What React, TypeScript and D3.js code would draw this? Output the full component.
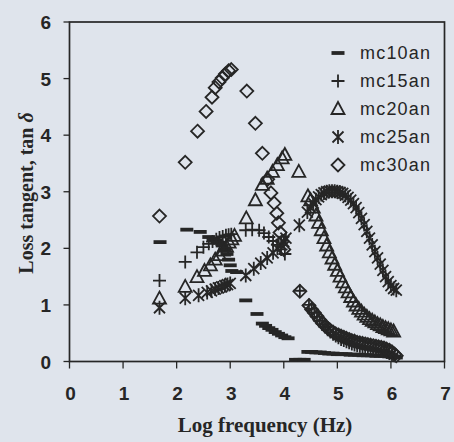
import React from "react";
import * as d3 from "d3";

// ---------- data ----------
const xTicks = [0, 1, 2, 3, 4, 5, 6, 7];
const yTicks = [0, 1, 2, 3, 4, 5, 6];
const seriesNames = ["mc10an", "mc15an", "mc20an", "mc25an", "mc30an"];

const mc10an: [number, number][] = [
  [1.69, 2.11], [2.19, 2.33], [2.44, 2.29], [2.6, 2.2], [2.68, 2.16], [2.75, 2.12], [2.8, 2.1],
  [2.85, 2.05], [2.9, 1.98], [2.94, 1.9], [2.97, 1.8], [3.0, 1.7], [3.03, 1.6], [3.12, 1.58],
  [3.29, 1.08], [3.5, 0.84], [3.6, 0.67], [3.66, 0.63], [3.72, 0.59], [3.78, 0.56], [3.84, 0.52],
  [3.9, 0.49], [3.96, 0.46], [4.02, 0.43], [4.08, 0.41],
  [4.22, 0.03], [4.3, 0.03], [4.38, 0.03], [4.45, 0.17], [4.52, 0.17], [4.6, 0.16], [4.68, 0.16],
  [4.76, 0.15], [4.84, 0.14], [4.92, 0.14], [5.0, 0.13], [5.08, 0.13], [5.16, 0.13], [5.24, 0.12],
  [5.32, 0.12], [5.4, 0.12], [5.48, 0.11], [5.56, 0.11], [5.64, 0.11], [5.72, 0.1], [5.8, 0.1],
  [5.88, 0.1], [5.96, 0.09], [6.04, 0.08], [6.1, 0.07],
];

const mc15an: [number, number][] = [
  [1.68, 1.43], [2.16, 1.76], [2.38, 1.93], [2.5, 2.02], [2.6, 2.08], [2.67, 2.12], [2.74, 2.16],
  [2.8, 2.19], [2.86, 2.21], [2.92, 2.23], [2.97, 2.24], [3.02, 2.25], [3.29, 2.32], [3.41, 2.33],
  [3.54, 2.32], [3.63, 2.27], [3.72, 2.2], [3.8, 2.13], [3.88, 2.06], [3.95, 1.98], [4.02, 1.9],
  [4.3, 1.25], [4.47, 1.0], [4.52, 0.93], [4.57, 0.86], [4.62, 0.79], [4.67, 0.72], [4.72, 0.66],
  [4.77, 0.61], [4.82, 0.56], [4.87, 0.52], [4.92, 0.48], [4.97, 0.45], [5.02, 0.42], [5.07, 0.39],
  [5.12, 0.37], [5.17, 0.35], [5.22, 0.33], [5.27, 0.31], [5.32, 0.29], [5.37, 0.28], [5.42, 0.27],
  [5.47, 0.26], [5.52, 0.25], [5.57, 0.24], [5.62, 0.23], [5.67, 0.22], [5.72, 0.21], [5.77, 0.2],
  [5.82, 0.19], [5.87, 0.18], [5.92, 0.16], [5.97, 0.14], [6.02, 0.12], [6.07, 0.1],
];

const mc20an: [number, number][] = [
  [1.68, 1.11], [2.16, 1.32], [2.38, 1.49], [2.52, 1.6], [2.63, 1.7], [2.72, 1.8], [2.8, 1.88],
  [2.87, 1.96], [2.93, 2.03], [2.98, 2.1], [3.03, 2.16], [3.08, 2.22], [3.3, 2.53], [3.47, 2.85],
  [3.6, 3.12], [3.69, 3.23], [3.79, 3.35], [3.88, 3.47], [3.97, 3.59], [4.02, 3.65], [4.28, 3.35],
  [4.45, 2.92], [4.5, 2.85], [4.55, 2.72], [4.6, 2.58], [4.65, 2.45], [4.7, 2.32], [4.75, 2.18],
  [4.8, 2.05], [4.85, 1.93], [4.9, 1.82], [4.95, 1.71], [5.0, 1.6], [5.05, 1.5], [5.1, 1.4],
  [5.15, 1.31], [5.2, 1.22], [5.25, 1.14], [5.3, 1.06], [5.35, 0.99], [5.4, 0.93], [5.45, 0.88],
  [5.5, 0.83], [5.55, 0.79], [5.6, 0.75], [5.65, 0.72], [5.7, 0.69], [5.75, 0.66], [5.8, 0.64],
  [5.85, 0.61], [5.9, 0.59], [5.95, 0.57], [6.0, 0.55], [6.05, 0.53],
];

const mc25an: [number, number][] = [
  [1.68, 0.95], [2.16, 1.12], [2.41, 1.17], [2.57, 1.22], [2.65, 1.25], [2.72, 1.28], [2.78, 1.3],
  [2.84, 1.32], [2.9, 1.34], [2.95, 1.36], [3.0, 1.38], [3.29, 1.52], [3.44, 1.64], [3.57, 1.74],
  [3.69, 1.83], [3.8, 1.92], [3.88, 2.0], [3.95, 2.06], [4.0, 2.12], [4.04, 2.18], [4.29, 2.41],
  [4.44, 2.64], [4.5, 2.72], [4.55, 2.8], [4.6, 2.86], [4.65, 2.91], [4.7, 2.95], [4.75, 2.98],
  [4.8, 3.0], [4.85, 3.01], [4.9, 3.01], [4.95, 3.01], [5.0, 3.0], [5.05, 2.99], [5.1, 2.97],
  [5.15, 2.94], [5.2, 2.9], [5.25, 2.85], [5.3, 2.79], [5.35, 2.72], [5.4, 2.63], [5.45, 2.53],
  [5.5, 2.42], [5.55, 2.3], [5.6, 2.18], [5.65, 2.06], [5.7, 1.94], [5.75, 1.83], [5.8, 1.72],
  [5.85, 1.61], [5.9, 1.5], [5.95, 1.41], [6.0, 1.34], [6.05, 1.29], [6.1, 1.26],
];

const mc30an: [number, number][] = [
  [1.68, 2.57], [2.16, 3.52], [2.39, 4.07], [2.55, 4.42], [2.66, 4.67], [2.72, 4.84], [2.79, 4.94],
  [2.85, 5.01], [2.91, 5.08], [2.97, 5.14], [3.02, 5.16], [3.31, 4.78], [3.47, 4.21], [3.6, 3.68],
  [3.7, 3.22], [3.76, 2.98], [3.82, 2.8], [3.87, 2.62], [3.9, 2.45], [3.93, 2.28], [3.97, 2.12],
  [4.0, 1.98], [4.3, 1.24], [4.47, 0.99], [4.52, 0.92], [4.57, 0.86], [4.62, 0.8], [4.67, 0.74],
  [4.72, 0.68], [4.77, 0.63], [4.82, 0.59], [4.87, 0.55], [4.92, 0.52], [4.97, 0.49], [5.02, 0.47],
  [5.07, 0.45], [5.12, 0.43], [5.17, 0.41], [5.22, 0.39], [5.27, 0.37], [5.32, 0.36], [5.37, 0.34],
  [5.42, 0.33], [5.47, 0.32], [5.52, 0.31], [5.57, 0.3], [5.62, 0.29], [5.67, 0.28], [5.72, 0.27],
  [5.77, 0.26], [5.82, 0.25], [5.87, 0.24], [5.92, 0.22], [5.97, 0.2], [6.02, 0.17], [6.07, 0.13],
  [6.1, 0.1],
];

const allSeries = [mc10an, mc15an, mc20an, mc25an, mc30an];

// ---------- layout ----------
const W = 454;
const H = 442;
const left = 69.5;
const right = 444.5;
const top = 22;
const bottom = 361.5;
const ink = "#262626";
const bg = "#dfe4ec";

const x = d3.scaleLinear().domain([0, 7]).range([left, right]);
const y = d3.scaleLinear().domain([0, 6]).range([bottom, top]);

const markerPaths = [
  "M-6.5,0H6.5", // bar
  "M-6.5,0H6.5M0,-6.5V6.5", // plus
  "M0,-7L6.5,5L-6.5,5Z", // triangle
  "M0,-7V7M-5.5,-5.5L5.5,5.5M-5.5,5.5L5.5,-5.5", // star
  "M0,-6.5L6.5,0L0,6.5L-6.5,0Z", // diamond
];

function Marker({ kind, cx, cy }: { kind: number; cx: number; cy: number }) {
  const sw = kind === 0 ? 3.8 : 1.8;
  return (
    <path
      d={markerPaths[kind]}
      transform={`translate(${cx},${cy})`}
      fill="none"
      stroke={ink}
      strokeWidth={sw}
    />
  );
}

export default function App() {
  const tickFont = "'Liberation Sans', Arial, sans-serif";
  const titleFont = "'Liberation Serif', 'Times New Roman', serif";
  return (
    <svg
      width={W}
      height={H}
      style={{ position: "absolute", left: 0, top: 0, display: "block" }}
    >
      <rect x={0} y={0} width={W} height={H} fill={bg} />
      {/* frame */}
      <rect
        x={left}
        y={top}
        width={right - left}
        height={bottom - top}
        fill="none"
        stroke={ink}
        strokeWidth={1.7}
      />
      {/* x ticks */}
      {xTicks.map((t) => (
        <g key={"xt" + t}>
          <line x1={x(t)} x2={x(t)} y1={bottom} y2={bottom + 7} stroke={ink} strokeWidth={1.3} />
          <text
            x={x(t) + 1}
            y={400}
            textAnchor="middle"
            fontFamily={tickFont}
            fontWeight="bold"
            fontSize={19}
            fill={ink}
          >
            {t}
          </text>
        </g>
      ))}
      {/* y ticks */}
      {yTicks.map((t) => (
        <g key={"yt" + t}>
          <line x1={left - 6} x2={left} y1={y(t)} y2={y(t)} stroke={ink} strokeWidth={1.3} />
          <text
            x={51}
            y={y(t) + 7}
            textAnchor="end"
            fontFamily={tickFont}
            fontWeight="bold"
            fontSize={19}
            fill={ink}
          >
            {t}
          </text>
        </g>
      ))}
      {/* axis titles */}
      <text
        x={265}
        y={432}
        textAnchor="middle"
        fontFamily={titleFont}
        fontWeight="bold"
        fontSize={21}
        fill={ink}
      >
        Log frequency (Hz)
      </text>
      <text
        transform={`translate(33,193) rotate(-90)`}
        textAnchor="middle"
        fontFamily={titleFont}
        fontWeight="bold"
        fontSize={20}
        fill={ink}
      >
        Loss tangent, tan <tspan fontStyle="italic">δ</tspan>
      </text>
      {/* data */}
      {allSeries.map((s, si) => (
        <g key={"s" + si}>
          {s.map((d, i) => (
            <Marker key={i} kind={si} cx={x(d[0])} cy={y(d[1])} />
          ))}
        </g>
      ))}
      {/* legend */}
      {seriesNames.map((n, i) => {
        const ly = 53 + i * 28;
        return (
          <g key={"lg" + n}>
            <Marker kind={i} cx={338} cy={ly} />
            <text
              x={360}
              y={ly + 6}
              fontFamily={tickFont}
              fontSize={18}
              letterSpacing={1.2}
              fill={ink}
            >
              {n}
            </text>
          </g>
        );
      })}
    </svg>
  );
}
